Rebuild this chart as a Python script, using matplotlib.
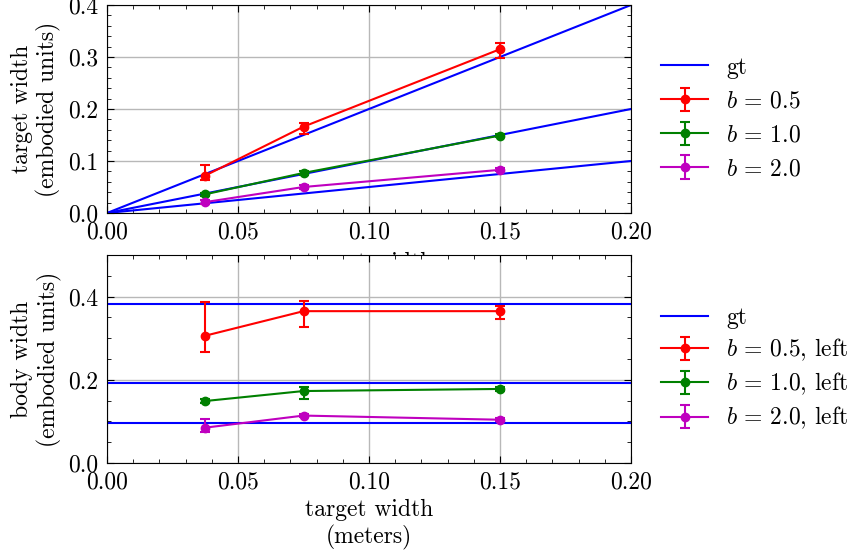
import numpy as np
import matplotlib.pyplot as plt
from matplotlib.ticker import MultipleLocator

plt.rcParams['font.family'] = ['cmr10', 'DejaVu Serif']
plt.rcParams['mathtext.fontset'] = 'cm'
plt.rcParams['axes.formatter.use_mathtext'] = True
plt.rcParams['font.size'] = 17

# target widths (meters)
widths = [0.0375, 0.075, 0.15]
gt_x = [0.0, 0.2]
b_vals = [0.5, 1.0, 2.0]
colors = ['r', 'g', 'm']

# target width estimates (embodied units), with lower/upper errors
tw_mean = [[0.072, 0.166, 0.315],
           [0.036, 0.077, 0.149],
           [0.021, 0.050, 0.083]]
tw_lo = [[0.008, 0.014, 0.017],
         [0.003, 0.004, 0.003],
         [0.004, 0.003, 0.003]]
tw_hi = [[0.020, 0.008, 0.012],
         [0.003, 0.004, 0.003],
         [0.004, 0.003, 0.003]]

# body width estimates (left side)
body_gt = [0.383, 0.1915, 0.0957]
bw_mean = [[0.306, 0.365, 0.365],
           [0.149, 0.173, 0.178],
           [0.085, 0.114, 0.104]]
bw_lo = [[0.039, 0.037, 0.020],
         [0.004, 0.019, 0.004],
         [0.010, 0.004, 0.004]]
bw_hi = [[0.081, 0.024, 0.013],
         [0.004, 0.010, 0.004],
         [0.020, 0.004, 0.004]]

fig = plt.figure(figsize=(8.49, 5.56), dpi=100)
ax1 = fig.add_axes([107/849, 1 - 213/556, 524/849, 208/556])
ax2 = fig.add_axes([107/849, 1 - 463/556, 524/849, 208/556])

def style(ax):
    ax.tick_params(which='both', direction='in', top=True, right=True, pad=6)
    ax.tick_params(which='major', length=5)
    ax.tick_params(which='minor', length=3)
    ax.grid(True, which='major', color='#b8b8b8', linewidth=1.0)
    ax.set_axisbelow(True)
    ax.xaxis.set_major_locator(MultipleLocator(0.05))
    ax.xaxis.set_minor_locator(MultipleLocator(0.01))
    ax.xaxis.set_major_formatter(plt.FormatStrFormatter('%.2f'))
    ax.set_xlim(0, 0.2)

def add_legend(ax, y, spacing):
    ax.legend(loc='center left', bbox_to_anchor=(1 + 30/524, y),
              frameon=False, borderpad=0, borderaxespad=0,
              handlelength=2.0, handletextpad=0.75, labelspacing=spacing)

# top: target width
for i, b in enumerate(b_vals):
    gt_y = [x * 1.0 / b for x in gt_x]
    ax1.plot(gt_x, gt_y, color='b', lw=1.5, label='gt' if i == 0 else None)
for i, b in enumerate(b_vals):
    ax1.errorbar(widths, tw_mean[i], yerr=[tw_lo[i], tw_hi[i]], color=colors[i],
                 marker='o', ms=6, lw=1.5, capsize=3.5, capthick=1.5,
                 label=r'$b\,=\,%.1f$' % b)
style(ax1)
ax1.set_ylim(0, 0.4)
ax1.yaxis.set_major_locator(MultipleLocator(0.1))
ax1.yaxis.set_minor_locator(MultipleLocator(0.02))
ax1.yaxis.set_major_formatter(plt.FormatStrFormatter('%.1f'))
ax1.set_ylabel('target width\n(embodied units)', labelpad=5)
ax1.set_xlabel('target width\n(meters)', labelpad=6)
add_legend(ax1, 0.454, 0.5)

# bottom: body width
for i, g in enumerate(body_gt):
    ax2.plot(gt_x, [g, g], color='b', lw=1.5, label='gt' if i == 0 else None)
for i, b in enumerate(b_vals):
    ax2.errorbar(widths, bw_mean[i], yerr=[bw_lo[i], bw_hi[i]], color=colors[i],
                 marker='o', ms=6, lw=1.5, capsize=3.5, capthick=1.5,
                 label=r'$b\,=\,%.1f$, left' % b)
style(ax2)
ax2.set_ylim(0, 0.5)
ax2.yaxis.set_major_locator(MultipleLocator(0.2))
ax2.yaxis.set_minor_locator(MultipleLocator(0.05))
ax2.yaxis.set_major_formatter(plt.FormatStrFormatter('%.1f'))
ax2.set_ylabel('body width\n(embodied units)', labelpad=5)
ax2.set_xlabel('target width\n(meters)', labelpad=4)
add_legend(ax2, 0.45, 0.32)

fig.savefig('out.png', dpi=100)
